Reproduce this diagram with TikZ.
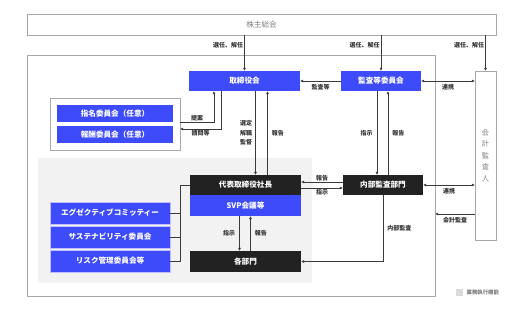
\documentclass[tikz,border=0pt]{standalone}
\usepackage{fontspec}
\setmainfont{Noto Sans CJK JP}
\usepackage{xcolor}
\usetikzlibrary{arrows.meta,calc}
\definecolor{svpblue}{HTML}{3D4BFA}
\definecolor{boxblack}{HTML}{222222}
\definecolor{framegray}{HTML}{A8A8A8}
\definecolor{linegray}{HTML}{3A3A3A}
\definecolor{bggray}{HTML}{F2F2F2}
\definecolor{txtgray}{HTML}{333333}

\begin{document}
\begin{tikzpicture}[x=1pt,y=-1pt,
 box/.style={anchor=north west,inner sep=0pt,outer sep=0pt,text=white,font=\bfseries\fontsize{7.6}{9}\selectfont},
 bluebox/.style={box,fill=svpblue},
 darkbox/.style={box,fill=boxblack},
 frame/.style={anchor=north west,inner sep=0pt,outer sep=0pt,draw=framegray,line width=0.9pt},
 lbl/.style={font=\bfseries\fontsize{6}{7}\selectfont,text=txtgray,inner sep=1pt},
 arr/.style={draw=linegray,line width=0.8pt,-{Latex[length=3.2pt,width=3.2pt]}},
 dblarr/.style={draw=linegray,line width=0.8pt,{Latex[length=3.2pt,width=3.2pt]}-{Latex[length=3.2pt,width=3.2pt]}},
 link/.style={draw=linegray,line width=0.8pt}]
 \useasboundingbox (0,0) rectangle (525,313);
 \node[frame,fill=white,minimum width=469pt,minimum height=21pt,text=gray,font=\fontsize{7.6}{9}\selectfont] (meeting) at (27,14) {株主総会};
 \node[frame,minimum width=408pt,minimum height=241pt] (board) at (27,55) {};
 \node[anchor=north west,inner sep=0pt,fill=bggray,minimum width=274pt,minimum height=125pt] (execarea) at (38,158) {};
 \node[frame,fill=white,minimum width=21pt,minimum height=169pt,align=center,text=gray,font=\fontsize{7.2}{11.5}\selectfont] (auditor) at (475,71) {会\\計\\監\\査\\人};
 \node[bluebox,minimum width=111pt,minimum height=20pt] (bod) at (189,71) {取締役会};
 \node[bluebox,minimum width=80pt,minimum height=20pt] (ace) at (341,71) {監査等委員会};
 \node[frame,fill=white,minimum width=130pt,minimum height=52pt] (nomgrp) at (50,98) {};
 \node[bluebox,minimum width=116pt,minimum height=17pt] (nom) at (57,105) {指名委員会（任意）};
 \node[bluebox,minimum width=116pt,minimum height=17pt] (rem) at (57,126) {報酬委員会（任意）};
 \node[darkbox,minimum width=111pt,minimum height=20pt] (ceo) at (190,175) {代表取締役社長};
 \node[bluebox,minimum width=111pt,minimum height=21pt] (svp) at (190,195) {SVP会議等};
 \node[darkbox,minimum width=111pt,minimum height=21pt] (dept) at (190,251) {各部門};
 \node[darkbox,minimum width=80pt,minimum height=20pt] (iad) at (343,175) {内部監査部門};
 \node[bluebox,draw=blue!25,line width=0.6pt,minimum width=120pt,minimum height=22pt] (excom) at (50,202) {エグゼクティブコミッティー};
 \node[bluebox,draw=blue!25,line width=0.6pt,minimum width=120pt,minimum height=22pt] (sus) at (50,226) {サステナビリティ委員会};
 \node[bluebox,draw=blue!25,line width=0.6pt,minimum width=120pt,minimum height=22pt] (risk) at (50,250) {リスク管理委員会等};
 \node[anchor=north west,inner sep=0pt,fill=black!14,minimum size=7pt] (legsq) at (456,289) {};
 \node[lbl,anchor=west,font=\bfseries\fontsize{5.4}{6}\selectfont,text=gray] at ([xshift=2pt]legsq.east) {業務執行機能};

 \draw[arr] (bod.north |- meeting.south) -- node[lbl,left,pos=0.28]{選任、解任} (bod.north);
 \draw[arr] (ace.north |- meeting.south) -- node[lbl,left,pos=0.28]{選任、解任} (ace.north);
 \draw[arr] (auditor.north |- meeting.south) -- node[lbl,left,pos=0.28]{選任、解任} (auditor.north);
 \draw[arr] (ace.west) -- node[lbl,below=2pt]{監査等} (bod.east);
 \draw[dblarr] (ace.east) -- node[lbl,below=2pt]{連携} (ace.east -| auditor.west);
 \draw[arr] ([yshift=2pt]nomgrp.east) -| node[lbl,above,pos=0.25]{提案} ([xshift=25pt]bod.south west);
 \draw[arr] ([xshift=32pt]bod.south west) |- node[lbl,below,pos=0.75]{請問等} ([yshift=-5pt]nomgrp.east);
 \draw[arr] ([xshift=11pt]bod.south) -- node[lbl,left=2pt,align=center,font=\bfseries\fontsize{6}{9.5}\selectfont]{選定\\解職\\監督} ([xshift=11pt]bod.south |- ceo.north);
 \draw[arr] ([xshift=22pt]ceo.north) -- node[lbl,right=3pt]{報告} ([xshift=22pt]ceo.north |- bod.south);
 \draw[arr] ([xshift=-4pt]ace.south) -- node[lbl,left=3pt]{指示} ([xshift=-4pt]ace.south |- iad.north);
 \draw[arr] ([xshift=7pt]ace.south |- iad.north) -- node[lbl,right=3pt]{報告} ([xshift=7pt]ace.south);
 \draw[arr] ([yshift=3pt]iad.west) -- node[lbl,above]{報告} ([yshift=3pt]iad.west -| ceo.east);
 \draw[arr] ([yshift=-3pt]ceo.east) -- node[lbl,below]{指示} ([yshift=-3pt]ceo.east -| iad.west);
 \draw[dblarr] (iad.east) -- node[lbl,below=2pt]{連携} (iad.east -| auditor.west);
 \draw[arr] (auditor.west |- 0,214) -- node[lbl,below=2pt]{会計監査} (board.east |- 0,214);
 \draw[arr] (iad.south) |- node[lbl,right=3pt,pos=0.25]{内部監査} (dept.east);
 \draw[arr] ([xshift=-6pt]svp.south) -- node[lbl,left=3pt]{指示} ([xshift=-6pt]svp.south |- dept.north);
 \draw[arr] ([xshift=5pt]svp.south |- dept.north) -- node[lbl,right=3pt]{報告} ([xshift=5pt]svp.south);
 \draw[link] (ceo.west) -- ++(-10pt,0) |- (risk.east);
 \draw[link] (excom.east) -- ++(10pt,0);
 \draw[link] (sus.east) -- ++(10pt,0);
\end{tikzpicture}
\end{document}
